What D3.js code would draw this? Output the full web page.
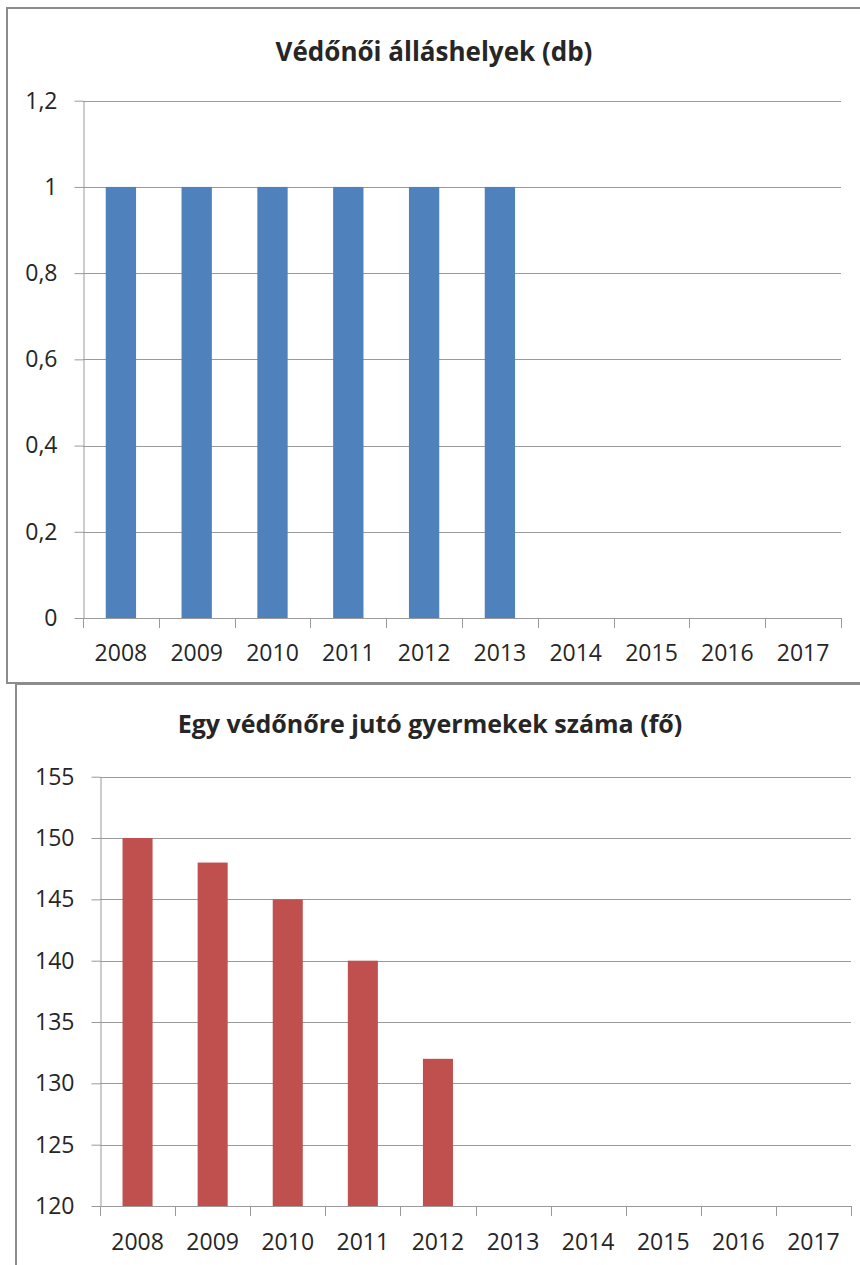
<html>
<head>
    <meta charset="utf-8">
    <title>Védőnői adatok</title>
    <script src="https://cdn.jsdelivr.net/npm/d3@7"></script>
    <style>
        body { margin: 0; background: #fff; }
        text { font-family: "Open Sans", sans-serif; fill: #262626; }
    </style>
</head>
<body>
    <svg id="chart"></svg>
    <script>
        // data
        const years = ['2008', '2009', '2010', '2011', '2012', '2013', '2014', '2015', '2016', '2017'];
        const posts = [1, 1, 1, 1, 1, 1, null, null, null, null];
        const childrenPerNurse = [150, 148, 145, 140, 132, null, null, null, null, null];
        const postTicks = [0, 0.2, 0.4, 0.6, 0.8, 1, 1.2];
        const childTicks = [120, 125, 130, 135, 140, 145, 150, 155];

        const svg = d3.select('#chart')
            .attr('width', 860)
            .attr('height', 1265);

        // frames of the two chart boxes
        svg.append('rect')
            .attr('x', 7).attr('y', 8)
            .attr('width', 870).attr('height', 675)
            .attr('fill', '#fff')
            .attr('stroke', '#8c8c8c')
            .attr('stroke-width', 2);
        svg.append('rect')
            .attr('x', 16).attr('y', 684)
            .attr('width', 870).attr('height', 600)
            .attr('fill', '#fff')
            .attr('stroke', '#8c8c8c')
            .attr('stroke-width', 2);

        function drawChart(opt) {
            const g = svg.append('g');

            const x = d3.scaleBand()
                .domain(years)
                .range([opt.left, opt.right])
                .paddingInner(0.6)
                .paddingOuter(0.3);
            const xEdges = d3.scaleBand()
                .domain(years)
                .range([opt.left, opt.right]);
            const y = d3.scaleLinear()
                .domain(opt.domain)
                .range([opt.bottom, opt.top]);

            // title
            g.append('text')
                .attr('x', opt.titleX)
                .attr('y', opt.titleY)
                .attr('text-anchor', 'middle')
                .style('font-size', opt.titleSize + 'px')
                .style('font-weight', 'bold')
                .text(opt.title);

            // horizontal gridlines
            g.selectAll('.grid')
                .data(opt.ticks)
                .join('line')
                .attr('x1', opt.left)
                .attr('x2', opt.right)
                .attr('y1', d => Math.round(y(d)) + 0.5)
                .attr('y2', d => Math.round(y(d)) + 0.5)
                .attr('stroke', '#9a9a9a');

            // bars
            g.selectAll('.bar')
                .data(opt.values.map((v, i) => ({ year: years[i], v: v })).filter(d => d.v != null))
                .join('rect')
                .attr('x', d => x(d.year))
                .attr('width', x.bandwidth())
                .attr('y', d => y(d.v))
                .attr('height', d => y(opt.domain[0]) - y(d.v))
                .attr('fill', opt.color);

            // y axis
            const yAxis = d3.axisLeft(y)
                .tickValues(opt.ticks)
                .tickFormat(d => String(d).replace('.', ','))
                .tickSize(9)
                .tickSizeOuter(0)
                .tickPadding(17);
            const ya = g.append('g')
                .attr('transform', `translate(${opt.left + 0.5},0)`)
                .call(yAxis);
            ya.selectAll('line, path').attr('stroke', '#9a9a9a');
            ya.selectAll('text').style('font-size', '23px').attr('fill', '#262626');

            // x axis: ticks on category edges, labels in the middle
            const edges = years.map(d => xEdges(d)).concat([opt.right]);
            g.selectAll('.xtick')
                .data(edges)
                .join('line')
                .attr('x1', d => Math.round(d) + 0.5)
                .attr('x2', d => Math.round(d) + 0.5)
                .attr('y1', opt.bottom)
                .attr('y2', opt.bottom + 10)
                .attr('stroke', '#9a9a9a');
            g.append('line')
                .attr('x1', opt.left).attr('x2', opt.right)
                .attr('y1', Math.round(opt.bottom) + 0.5)
                .attr('y2', Math.round(opt.bottom) + 0.5)
                .attr('stroke', '#9a9a9a');
            g.selectAll('.xlabel')
                .data(years)
                .join('text')
                .attr('x', d => xEdges(d) + xEdges.bandwidth() / 2)
                .attr('y', opt.labelY)
                .attr('text-anchor', 'middle')
                .style('font-size', '23px')
                .text(d => d);
        }

        drawChart({
            title: 'Védőnői álláshelyek (db)',
            titleX: 434, titleY: 61, titleSize: 26,
            left: 83, right: 841, top: 100.7, bottom: 618,
            domain: [0, 1.2], ticks: postTicks,
            values: posts, color: '#4f81bd',
            labelY: 661
        });

        drawChart({
            title: 'Egy védőnőre jutó gyermekek száma (fő)',
            titleX: 430, titleY: 733, titleSize: 25,
            left: 100, right: 851, top: 776.7, bottom: 1206,
            domain: [120, 155], ticks: childTicks,
            values: childrenPerNurse, color: '#c0504d',
            labelY: 1250
        });
    </script>
</body>
</html>
